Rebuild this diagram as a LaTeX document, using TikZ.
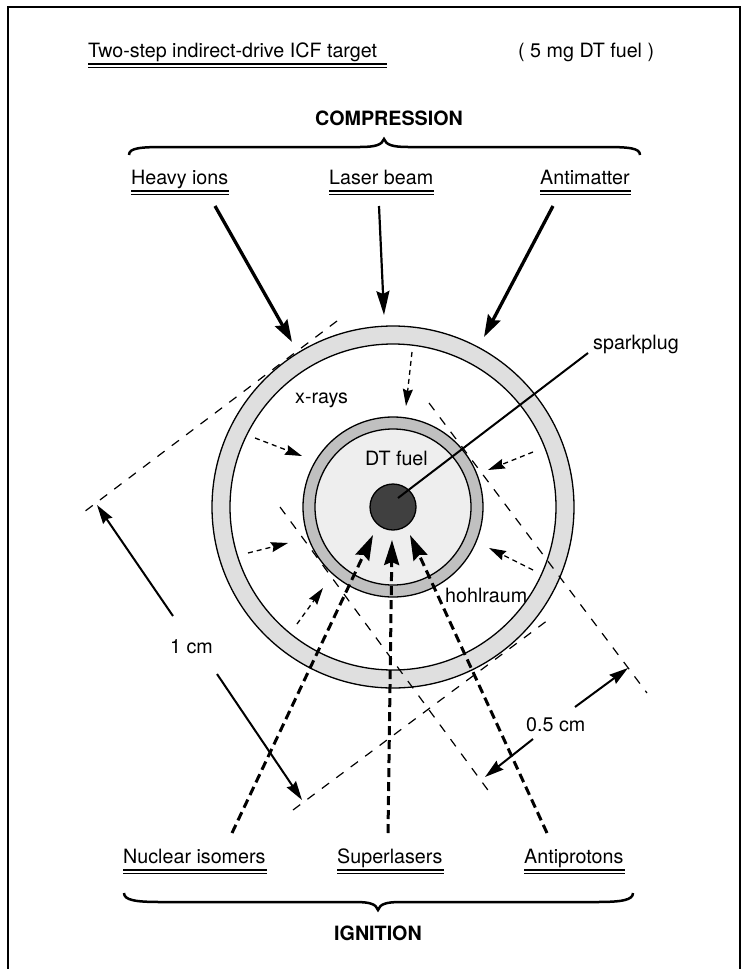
\documentclass[tikz,border=0pt]{standalone}
\usepackage{fontspec}
\setmainfont{TeX Gyre Heros}
\usetikzlibrary{arrows.meta,calc}
\definecolor{ringgray}{HTML}{DFDFDF}
\definecolor{hohlgray}{HTML}{C0C0C0}
\definecolor{fuelgray}{HTML}{EEEEEE}
\definecolor{coregray}{HTML}{404040}
\newcommand\dblul[2]{%
  \draw[uline] ($(#1.base west)+(0,7)$) -- ($(#1.base east)+(#2,7)$);
  \draw[uline] ($(#1.base west)+(0,10.5)$) -- ($(#1.base east)+(#2,10.5)$);}
\begin{document}
\begin{tikzpicture}[x=1pt,y=-1pt,
  txt/.style={inner sep=0pt,font=\fontsize{19.7}{23}\selectfont},
  btxt/.style={inner sep=0pt,font=\fontsize{19.7}{23}\selectfont\bfseries},
  uline/.style={line width=1.2pt},
  brace/.style={line width=2.5pt},
  disc/.style={circle,draw=black,line width=1.3pt,inner sep=0pt},
  beam/.style={line width=3.3pt,-{Stealth[length=22pt,width=14pt,inset=3pt]}},
  lbeam/.style={line width=2.2pt,-{Stealth[length=24pt,width=13pt,inset=3pt]}},
  xray/.style={line width=1.3pt,dash pattern=on 5pt off 4pt,-{Stealth[length=17pt,width=10pt,inset=2pt]}},
  ign/.style={line width=3pt,dash pattern=on 9pt off 5pt,-{Stealth[length=25pt,width=15pt,inset=3pt]}},
  ext/.style={line width=1.2pt,dash pattern=on 9pt off 9pt},
  dim/.style={line width=2pt,-{Stealth[length=19pt,width=11pt,inset=2pt]}},
  lead/.style={line width=2pt}]
\useasboundingbox (0,0) rectangle (749,969);
\draw[line width=1.5pt] (8,969) -- (8,7) -- (740,7) -- (740,969);

% header
\node[txt,anchor=base west] (title) at (88,57) {Two-step indirect-drive ICF target};
\dblul{title}{10}
\node[txt,anchor=base west] (fuelmass) at (518,57) {( 5 mg DT fuel )};
\node[btxt,anchor=base] (comp) at (389,125) {COMPRESSION};
\draw[brace] (129,155) .. controls (129,148) and (140,147) .. (165,147) -- (360,147)
  .. controls (375,147) and (382,145) .. (384,139)
  .. controls (386,145) and (393,147) .. (408,147) -- (604,147)
  .. controls (629,147) and (640,148) .. (640,155);
\node[txt,anchor=base west] (hi) at (131,184) {Heavy ions};
\dblul{hi}{1}
\node[txt,anchor=base west] (lb) at (329,184) {Laser beam};
\dblul{lb}{1}
\node[txt,anchor=base west] (am) at (540,184) {Antimatter};
\dblul{am}{1}

% target
\node[disc,fill=ringgray,minimum size=362pt] (outer) at (393,507) {};
\node[disc,fill=white,minimum size=326pt] (outerin) at (393,507) {};
\node[disc,fill=hohlgray,minimum size=180pt] (hohl) at (393,507) {};
\node[disc,fill=fuelgray,minimum size=156pt] (fuel) at (393,507) {};
\node[disc,fill=coregray,minimum size=46pt] (core) at (393,507) {};

\node[txt,anchor=base west] (xr) at (295,403.5) {x-rays};
\node[txt,anchor=base west] (dt) at (365,465) {DT fuel};
\node[txt,anchor=base west] (sp) at (593,349) {sparkplug};
\node[txt,anchor=base west] (hr) at (445,602) {hohlraum};

% compression beams
\coordinate (hiS) at (215,206); \coordinate (hiE) at (292,342);
\coordinate (lbS) at (379,206); \coordinate (lbE) at (384,315);
\coordinate (amS) at (553,206); \coordinate (amE) at (484,337);
\draw[beam] (hiS) -- (hiE);
\draw[lbeam] (lbS) -- (lbE);
\draw[beam] (amS) -- (amE);

% x-rays
\coordinate (x1s) at (412,352); \coordinate (x1e) at (406,406);
\coordinate (x2s) at (255,438); \coordinate (x2e) at (302,456);
\coordinate (x3s) at (533,452); \coordinate (x3e) at (488,470);
\coordinate (x4s) at (248,553); \coordinate (x4e) at (288,543);
\coordinate (x5s) at (297,624); \coordinate (x5e) at (323,588);
\coordinate (x6s) at (533,570); \coordinate (x6e) at (489,548);
\foreach \i in {1,...,6} \draw[xray] (x\i s) -- (x\i e);

% dimension extension lines
\coordinate (e1a) at (337,321); \coordinate (e1b) at (80,515);
\coordinate (e2a) at (293,810); \coordinate (e2b) at (548,620);
\coordinate (e3a) at (429,403); \coordinate (e3b) at (647,693);
\coordinate (e4a) at (280,507); \coordinate (e4b) at (493,797);
\foreach \i in {1,...,4} \draw[ext] (e\i a) -- (e\i b);

% sparkplug leader
\coordinate (spS) at (398,498); \coordinate (spE) at (588,353);
\draw[lead] (spS) -- (spE);

% ignition beams
\node[txt,anchor=base west] (ni) at (123,863) {Nuclear isomers};
\dblul{ni}{1}
\node[txt,anchor=base west] (sl) at (337,863) {Superlasers};
\dblul{sl}{1}
\node[txt,anchor=base west] (ap) at (524,863) {Antiprotons};
\dblul{ap}{1}
\coordinate (niS) at (232,833); \coordinate (niE) at (373,535);
\coordinate (slS) at (388,833); \coordinate (slE) at (392,540);
\coordinate (apS) at (547,833); \coordinate (apE) at (410,535);
\draw[ign] (niS) -- (niE);
\draw[ign] (slS) -- (slE);
\draw[ign] (apS) -- (apE);

% dimensions
\node[txt,anchor=base west] (cm1) at (170,653) {1 cm};
\coordinate (d1s) at (173,616); \coordinate (d1e) at (97,505);
\coordinate (d2s) at (217,674); \coordinate (d2e) at (302,800);
\draw[dim] (d1s) -- (d1e);
\draw[dim] (d2s) -- (d2e);
\node[txt,anchor=base west] (cm05) at (526,731) {0.5 cm};
\coordinate (d3s) at (575,707); \coordinate (d3e) at (628,668);
\coordinate (d4s) at (533,739); \coordinate (d4e) at (485,777);
\draw[dim] (d3s) -- (d3e);
\draw[dim] (d4s) -- (d4e);

% footer
\draw[brace] (124,893) .. controls (124,900) and (135,902) .. (160,902) -- (355,902)
  .. controls (370,902) and (376,904) .. (378,910)
  .. controls (380,904) and (386,902) .. (401,902) -- (597,902)
  .. controls (622,902) and (633,900) .. (633,893);
\node[btxt,anchor=base] (ign) at (378,940) {IGNITION};
\end{tikzpicture}
\end{document}
